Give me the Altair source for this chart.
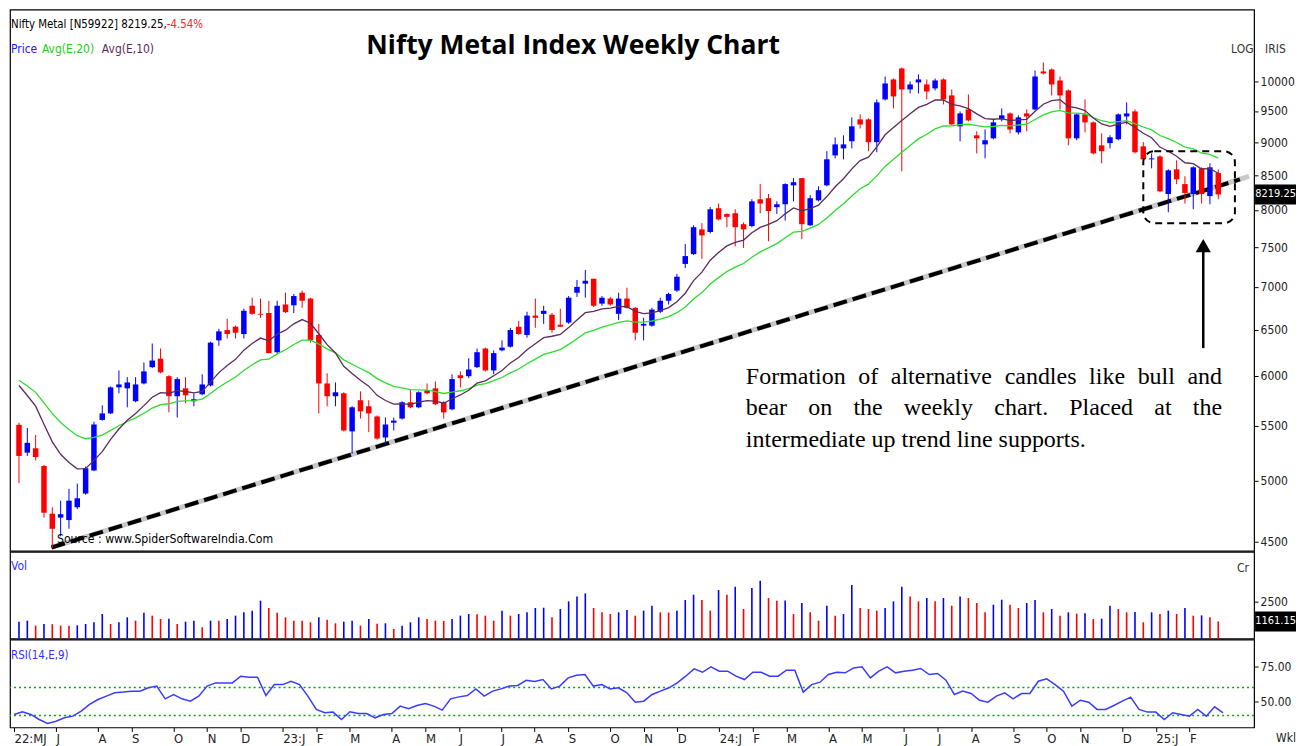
import altair as alt
import pandas as pd

# ---------------- data (weekly candles, 27 May 2022 .. 28 Feb 2025) -------------
opens = [5510, 5250, 5290, 5130, 4722, 4690, 4670, 4775, 4890, 5090,
         5557, 5620, 5880, 5870, 5740, 5920, 6090, 6180, 5995, 5790,
         5870, 5740, 5810, 5900, 6380, 6495, 6533, 6450, 6775, 6680,
         6690, 6250, 6790, 6780, 6930, 6860, 6440, 5920, 5790, 5820,
         5447, 5750, 5690, 5590, 5390, 5530, 5570, 5730, 5680, 5851,
         5870, 5730, 5660, 6005, 5995, 6090, 6290, 6055, 6270, 6310,
         6533, 6440, 6660, 6680, 6670, 6555, 6580, 6930, 7040, 7100,
         6800, 6860, 6680, 6860, 6750, 6545, 6545, 6705, 6834, 6955,
         7285, 7410, 7735, 7700, 8025, 7945, 7955, 7805, 7780, 8150,
         8165, 8040, 8080, 8350, 8455, 7790, 8135, 8350, 8795, 8903,
         9014, 9363, 9363, 9000, 9693, 10035, 10228, 9862, 9983, 9948,
         9880, 10035, 9760, 9250, 9526, 9107, 8965, 9060, 9363, 9460,
         9154, 9460, 9526, 10175, 10210, 10017, 9845, 9060, 9444, 9314,
         8950, 8985, 9045, 9411, 9493, 8934, 8735, 8780, 8225, 8585,
         8368, 8225, 8600, 8195, 8530]
highs = [5530, 5480, 5413, 5140, 4775, 4830, 4930, 4975, 5125, 5540,
         5700, 5890, 6055, 5985, 5985, 6140, 6345, 6290, 6005, 5985,
         5985, 5820, 6015, 6365, 6510, 6625, 6545, 6740, 6870, 6860,
         6834, 6834, 6930, 6915, 6955, 6870, 6565, 6025, 5930, 5830,
         5690, 5840, 5750, 5600, 5580, 5580, 5740, 5860, 5840, 5920,
         5940, 5740, 6015, 6045, 6185, 6290, 6300, 6270, 6380, 6520,
         6600, 6705, 6860, 6775, 6690, 6740, 6890, 7085, 7210, 7100,
         6890, 6880, 6930, 6990, 6760, 6635, 6750, 6870, 6930, 7160,
         7540, 7790, 7820, 8040, 8090, 7955, 8010, 7830, 8150, 8368,
         8225, 8121, 8380, 8455, 8455, 8210, 8335, 8860, 9074, 9108,
         9395, 9444, 9380, 9693, 10087, 10052, 10245, 10000, 10122, 10035,
         10052, 10052, 9862, 9493, 9777, 9170, 9202, 9363, 9543, 9477,
         9428, 9526, 10192, 10335, 10228, 10087, 9862, 9460, 9693, 9330,
         9138, 9108, 9460, 9643, 9526, 9000, 8826, 8795, 8585, 8720,
         8482, 8630, 8615, 8675, 8585]
lows = [4980, 5220, 5180, 4690, 4450, 4540, 4600, 4760, 4880, 5085,
        5550, 5615, 5820, 5680, 5730, 5910, 6080, 6025, 5630, 5580,
        5720, 5690, 5800, 5890, 6320, 6400, 6400, 6400, 6670, 6635,
        6240, 6240, 6690, 6690, 6750, 6355, 5620, 5690, 5690, 5447,
        5240, 5570, 5440, 5370, 5330, 5456, 5560, 5670, 5670, 5810,
        5700, 5570, 5650, 5880, 5975, 6080, 6045, 6016, 6260, 6300,
        6440, 6410, 6520, 6565, 6465, 6530, 6565, 6880, 6870, 6760,
        6775, 6775, 6610, 6740, 6380, 6380, 6533, 6690, 6790, 6940,
        7235, 7400, 7350, 7680, 7860, 7765, 7510, 7490, 7765, 7955,
        7578, 7945, 7855, 8121, 7605, 7780, 8121, 8335, 8750, 8735,
        8903, 9216, 8860, 8843, 9676, 9543, 8555, 9794, 9794, 9693,
        9845, 9609, 9266, 9014, 9330, 8826, 8750, 9045, 9330, 9138,
        9122, 9170, 9510, 10122, 9760, 9526, 8950, 9030, 9154, 8811,
        8675, 8903, 9030, 9282, 8826, 8720, 8600, 8250, 7969, 8368,
        8090, 8010, 8090, 8080, 8150]
closes = [5220, 5340, 5210, 4730, 4600, 4718, 4830, 4850, 5110, 5513,
          5620, 5880, 5910, 5930, 5910, 6045, 6160, 6035, 5790, 5965,
          5800, 5760, 5910, 6355, 6480, 6450, 6465, 6716, 6680, 6670,
          6240, 6775, 6700, 6890, 6834, 6380, 5920, 5790, 5830, 5456,
          5680, 5640, 5620, 5380, 5513, 5550, 5730, 5680, 5830, 5820,
          5710, 5630, 5965, 5975, 6065, 6250, 6055, 6240, 6300, 6495,
          6450, 6660, 6635, 6716, 6495, 6533, 6870, 7000, 7075, 6775,
          6870, 6790, 6860, 6750, 6465, 6565, 6730, 6834, 6915, 7125,
          7385, 7765, 7655, 8010, 7870, 7905, 7765, 7735, 8121, 8090,
          7985, 8080, 8368, 8395, 7805, 8165, 8280, 8736, 8965, 8965,
          9250, 9280, 9000, 9643, 9965, 9743, 9862, 9948, 10035, 9828,
          10017, 9693, 9282, 9460, 9346, 9060, 9030, 9314, 9428, 9200,
          9395, 9411, 10087, 10140, 9948, 9760, 9060, 9444, 9314, 8826,
          8860, 9076, 9444, 9460, 8843, 8735, 8750, 8263, 8570, 8438,
          8240, 8615, 8225, 8615, 8219.25]
volumes = [1148, 1215, 878, 990, 975, 878, 865, 900, 990, 1103,
           1665, 990, 1103, 1440, 1215, 1755, 1553, 1328, 1340, 990,
           1148, 1215, 765, 1215, 1200, 1328, 1553, 1778, 1890, 2565,
           2070, 1755, 1440, 1215, 1200, 1103, 1440, 1283, 1035, 1148,
           1215, 878, 1328, 1000, 1035, 653, 878, 1103, 1440, 1328,
           1215, 1200, 1328, 1553, 1665, 1640, 1553, 1215, 1890, 1553,
           1665, 1778, 2070, 2090, 1440, 2003, 2520, 2858, 3060, 2070,
           1778, 1665, 1778, 1935, 1553, 1890, 2228, 1778, 1765, 1890,
           2610, 2970, 2610, 1890, 3285, 2970, 3510, 2003, 3420, 3915,
           2745, 2565, 2580, 1665, 2408, 1778, 1215, 2228, 1553, 1665,
           3623, 2070, 2003, 1890, 2070, 2520, 3510, 2858, 2520, 2745,
           2520, 2745, 2228, 2858, 2745, 2408, 1778, 2295, 2633, 2295,
           2070, 2408, 2610, 1778, 2003, 1553, 1778, 1690, 1710, 1328,
           1345, 2228, 2003, 1778, 1795, 1103, 1778, 1665, 1890, 1665,
           2070, 1553, 1570, 1440, 1161.15]
rsi_values = [40.7, 42.6, 40.7, 37.1, 34.3, 35.9, 38.3, 39.5, 43.1, 47.9,
              51.4, 53.8, 56.2, 56.7, 57.4, 57.4, 59.8, 61.0, 51.9, 55.0,
              51.9, 50.2, 53.8, 61.0, 63.3, 63.3, 63.3, 68.1, 67.4, 67.4,
              54.3, 62.1, 62.1, 64.5, 62.1, 53.8, 44.3, 41.9, 42.4, 37.1,
              42.6, 41.4, 41.4, 38.3, 40.7, 41.4, 46.7, 44.8, 47.1, 48.6,
              46.7, 43.8, 51.9, 53.3, 54.3, 59.0, 53.8, 57.4, 59.0, 61.0,
              61.5, 65.2, 64.3, 65.7, 59.0, 61.0, 66.9, 68.8, 69.3, 61.0,
              62.1, 59.0, 59.8, 56.2, 49.5, 50.2, 55.0, 57.4, 59.8, 63.3,
              68.1, 73.3, 70.9, 74.8, 71.7, 71.7, 68.1, 65.7, 70.9, 70.9,
              68.1, 68.1, 72.4, 72.4, 56.7, 62.1, 63.8, 69.3, 70.9, 70.5,
              74.0, 74.8, 66.9, 71.7, 74.8, 70.5, 71.7, 72.4, 73.6, 69.3,
              70.0, 65.2, 55.0, 57.4, 55.7, 50.9, 49.5, 53.8, 56.2, 51.9,
              55.7, 55.7, 64.5, 66.2, 62.1, 57.4, 46.7, 50.9, 49.5, 44.3,
              44.3, 47.1, 50.2, 53.1, 44.3, 42.4, 42.4, 37.1, 41.9, 40.7,
              39.5, 44.3, 39.5, 46.2, 41.9]

ema10_seed = 6050
ema20_seed = 6030

price_ticks = [4500, 5000, 5500, 6000, 6500, 7000, 7500, 8000, 8500, 9000, 9500, 10000]
month_ticks = [0, 5, 10, 14, 19, 23, 27, 32, 36, 40, 45, 49, 53, 58, 62, 66, 71,
               75, 79, 84, 88, 92, 97, 101, 106, 110, 114, 119, 123, 127, 132, 136, 140]
month_labels = ["22:MJ", "J", "A", "S", "O", "N", "D", "23:J", "F", "M", "A", "M", "J",
                "J", "A", "S", "O", "N", "D", "24:J", "F", "M", "A", "M", "J", "J", "A",
                "S", "O", "N", "D", "25:J", "F"]

# trend line, highlight box and arrow (week index, price)
trend_i = [3.9, 146.6]
trend_p = [4453, 8436]
trend_ext_i = [3.9, 147.7]
trend_ext_p = [4453, 8480]
box_i = [135.0, 146.0]
box_p = [7819, 8859]
arrow_i = 142.2
arrow_p = [6295, 7440]
arrow_head_p = 7520

last_close = 8219.25
last_volume = 1161.15

note_lines = ["Formation of alternative candles like bull and",
              "bear on the weekly chart. Placed at the",
              "intermediate up trend line supports."]


def ema(vals, span, seed):
    k = 2.0 / (span + 1)
    e = seed
    out = []
    for v in vals:
        e = e + k * (v - e)
        out.append(round(e, 2))
    return out


n = len(closes)
df = pd.DataFrame({
    "i": list(range(n)),
    "open": opens, "high": highs, "low": lows, "close": closes,
    "vol": volumes, "rsi": rsi_values,
    "ema10": ema(closes, 10, ema10_seed),
    "ema20": ema(closes, 20, ema20_seed),
})
df["dir"] = ["up" if c >= o else "down" for o, c in zip(opens, closes)]
# volume bars are coloured by the change in volume versus the previous week
prev_vol = [0] + volumes[:-1]
df["vdir"] = ["up" if v > p else "down" for p, v in zip(prev_vol, volumes)]

one = pd.DataFrame({"tag": [last_close], "vtag": [last_volume]})
trend_df = pd.DataFrame({"i": trend_i, "p": trend_p})
trend_ext_df = pd.DataFrame({"i": trend_ext_i, "p": trend_ext_p})
box_df = pd.DataFrame({"i1": [box_i[0]], "i2": [box_i[1]], "p1": [box_p[0]], "p2": [box_p[1]]})
arrow_df = pd.DataFrame({"i": [arrow_i], "p1": [arrow_p[0]], "p2": [arrow_p[1]], "ph": [arrow_head_p]})
lvl_df = pd.DataFrame({"v": [60, 40]})

# ---------------- layout / style ----------------
W = 1246
H1, H2, H3 = 542, 87, 88
RIGHT = 1288          # right-most pixel allowed (keeps the page from being scaled)
TAGL = 1247
NARROW = "DejaVu Sans Condensed, Liberation Sans Narrow, Arial Narrow, sans-serif"
SERIF = "Liberation Serif, Times New Roman, serif"
BLUE = "#0000FF"
RED = "#FF0000"

xs = alt.Scale(domain=[-0.48, 147.7], nice=False, zero=False)
py = alt.Scale(type="log", domain=[4428, 11329], nice=False)
vy = alt.Scale(domain=[0, 5881], nice=False, zero=True)
ry = alt.Scale(domain=[31.4, 94.3], nice=False, zero=False)
col = alt.Scale(domain=["up", "down"], range=[BLUE, RED])
vcol = alt.Scale(domain=["up", "down"], range=["#3535FF", "#FF3535"])
X = alt.X("i:Q", scale=xs, axis=None)


def right_axis(values, fmt):
    return alt.Axis(orient="right", values=values, format=fmt, title=None, grid=False,
                    labelFont=NARROW, labelFontSize=12, labelColor="#222222",
                    tickColor="#000000", tickSize=4, domain=False, labelPadding=2,
                    labelFlush=False, labelOverlap=False)


PAX = right_axis(price_ticks, "d")
VAX = right_axis([2500], "d")
RAX = right_axis([50, 75], ".2f")


def txt(s, x, y, size=12, color="#000000", font=NARROW, weight="normal", align="left"):
    return alt.Chart(one).mark_text(fontSize=size, color=color, font=font, fontWeight=weight,
                                    align=align, baseline="alphabetic").encode(
        x=alt.value(x), y=alt.value(y), text=alt.value(s))


# Times / Liberation Serif advance widths (em) for laying out the justified note
TIMES_W = {'a': .444, 'b': .5, 'c': .444, 'd': .5, 'e': .444, 'f': .333, 'g': .5, 'h': .5,
           'i': .278, 'j': .278, 'k': .5, 'l': .278, 'm': .778, 'n': .5, 'o': .5, 'p': .5,
           'q': .5, 'r': .333, 's': .389, 't': .278, 'u': .5, 'v': .5, 'w': .722, 'x': .5,
           'y': .5, 'z': .444, 'F': .556, 'P': .556, '.': .25, ',': .25}


def justified(line, x0, x1, y, size):
    words = line.split(" ")
    widths = [sum(TIMES_W.get(ch, .5) for ch in w) * size for w in words]
    gap = (x1 - x0 - sum(widths)) / (len(words) - 1)
    layers = []
    x = x0
    for w, wd in zip(words, widths):
        layers.append(txt(w, round(x, 1), y, size=size, font=SERIF))
        x += wd + gap
    return layers


def tag(field, scale, axis):
    box_ = alt.Chart(one).mark_rect(color="#000000", yOffset=-10, y2Offset=10).encode(
        x=alt.value(TAGL), x2=alt.value(RIGHT),
        y=alt.Y(f"{field}:Q", scale=scale, axis=axis), y2=f"{field}:Q")
    text_ = alt.Chart(one).mark_text(font=NARROW, fontSize=11, color="#FFFFFF", align="center",
                                     baseline="middle").encode(
        x=alt.value((TAGL + RIGHT) / 2), y=alt.Y(f"{field}:Q", scale=scale, axis=axis),
        text=alt.Text(f"{field}:Q", format=".2f"))
    return [box_, text_]


base = alt.Chart(df)

# ---------------- price panel ----------------
trend_gray = alt.Chart(trend_ext_df).mark_line(color="#C8C8C8", strokeWidth=5).encode(
    x=alt.X("i:Q", scale=xs, axis=None), y=alt.Y("p:Q", scale=py, axis=PAX))
trend_black = alt.Chart(trend_df).mark_line(color="#000000", strokeWidth=4, strokeDash=[14, 6],
                                            strokeCap="butt").encode(
    x=alt.X("i:Q", scale=xs, axis=None), y=alt.Y("p:Q", scale=py, axis=PAX))
wicks = base.mark_rule(strokeWidth=1).encode(
    x=X, y=alt.Y("low:Q", scale=py, axis=PAX), y2="high:Q",
    color=alt.Color("dir:N", scale=col, legend=None))
bodies = base.mark_bar(size=5.5).encode(
    x=X, y=alt.Y("open:Q", scale=py, axis=PAX), y2="close:Q",
    color=alt.Color("dir:N", scale=col, legend=None))
ema20_line = base.mark_line(color="#2EDC2E", strokeWidth=1.3).encode(
    x=X, y=alt.Y("ema20:Q", scale=py, axis=PAX))
ema10_line = base.mark_line(color="#5B2C5B", strokeWidth=1.3).encode(
    x=X, y=alt.Y("ema10:Q", scale=py, axis=PAX))
box = alt.Chart(box_df).mark_rect(fillOpacity=0, stroke="#000000", strokeWidth=2,
                                  strokeDash=[7, 5], cornerRadius=11).encode(
    x=alt.X("i1:Q", scale=xs, axis=None), x2="i2:Q",
    y=alt.Y("p1:Q", scale=py, axis=PAX), y2="p2:Q")
arrow = alt.Chart(arrow_df).mark_rule(strokeWidth=2.5, color="#000000").encode(
    x=alt.X("i:Q", scale=xs, axis=None), y=alt.Y("p1:Q", scale=py, axis=PAX), y2="p2:Q")
arrow_head = alt.Chart(arrow_df).mark_point(shape="triangle-up", filled=True, size=230,
                                            color="#000000", opacity=1).encode(
    x=alt.X("i:Q", scale=xs, axis=None), y=alt.Y("ph:Q", scale=py, axis=PAX))

note_layers = (justified(note_lines[0], 737, 1214, 375, 24)
               + justified(note_lines[1], 737, 1214, 406, 24)
               + [txt(note_lines[2], 737, 438, size=24, font=SERIF)])

price_panel = alt.layer(
    trend_gray, trend_black, wicks, bodies, ema20_line, ema10_line, box, arrow, arrow_head,
    txt("Nifty Metal [N59922] 8219.25,", 1, 18, size=11.4),
    txt("-4.54%", 157, 18, size=11.4, color="#FF2020"),
    txt("Price", 1, 43, size=12, color="#2020FF"),
    txt("Avg(E,20)", 32, 43, size=12, color="#22CC22"),
    txt("Avg(E,10)", 92, 43, size=12, color="#5B2C5B"),
    txt("Nifty Metal Index Weekly Chart", 564, 44, size=26.5, font="Open Sans, Lato, sans-serif",
        weight="bold", align="center"),
    txt("LOG", 1223, 43, size=12, color="#333333"),
    txt("IRIS", 1257, 43, size=12, color="#333333"),
    *note_layers,
    txt("Source : www.SpiderSoftwareIndia.Com", 47, 534, size=12.2),
    *tag("tag", py, PAX),
).properties(width=W, height=H1)

# ---------------- volume panel ----------------
vol_bars = base.mark_bar(size=1.6).encode(
    x=X, y=alt.Y("vol:Q", scale=vy, axis=VAX),
    color=alt.Color("vdir:N", scale=vcol, legend=None))
vol_panel = alt.layer(
    vol_bars,
    txt("Vol", 1, 18, size=12, color="#3030FF"),
    txt("Cr", 1229, 20, size=12, color="#333333"),
    *tag("vtag", vy, VAX),
).properties(width=W, height=H2)

# ---------------- RSI panel ----------------
ticks_js = ",".join(str(t) for t in month_ticks)
labels_js = ",".join("'" + s + "'" for s in month_labels)
x_axis = alt.Axis(values=month_ticks, labelExpr=f"[{labels_js}][indexof([{ticks_js}], datum.value)]",
                  labelAlign="left", labelFont=NARROW, labelFontSize=13, labelColor="#222222",
                  tickSize=4, tickColor="#000000", domain=False, grid=False, title=None,
                  labelPadding=1, labelOverlap=False, labelFlush=False, labelBound=False)
rsi_levels = alt.Chart(lvl_df).mark_rule(color="#11A011", strokeWidth=1.5, strokeDash=[2, 3]).encode(
    y=alt.Y("v:Q", scale=ry, axis=RAX))
rsi_line = base.mark_line(color="#3B3BFF", strokeWidth=1.5).encode(
    x=alt.X("i:Q", scale=xs, axis=x_axis),
    y=alt.Y("rsi:Q", scale=ry, axis=RAX))
rsi_panel = alt.layer(
    rsi_levels, rsi_line,
    txt("RSI(14,E,9)", 1, 19, size=11.5, color="#3030FF"),
    txt("Wkl", RIGHT, 103, size=12, color="#222222", align="right"),
).properties(width=W, height=H3)

chart = alt.vconcat(price_panel, vol_panel, rsi_panel, spacing=1, bounds="flush").properties(
    padding=0, background="#FFFFFF"
).configure_view(stroke="#000000", strokeWidth=1.2)

chart.save("out.html", embed_options={"renderer": "svg", "actions": False})
